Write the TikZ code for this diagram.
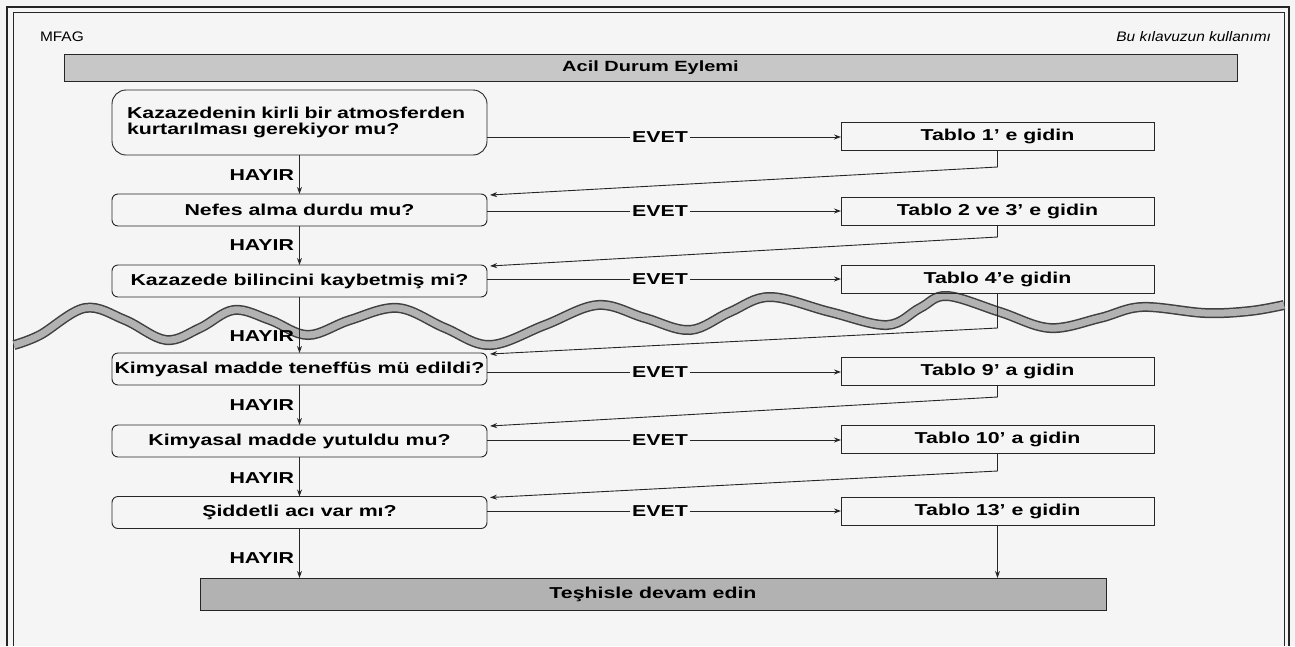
\documentclass[tikz,border=0pt]{standalone}
\usepackage{fontspec}
\setmainfont{Liberation Sans}[FakeStretch=1.35]
\newfontfamily\plainfont{Liberation Sans}[FakeStretch=1.12]
\usetikzlibrary{arrows.meta,calc}
\begin{document}
\begin{tikzpicture}[x=1pt,y=-1pt,
  every node/.style={inner sep=0pt, outer sep=0pt},
  lbl/.style={font=\fontsize{15.8}{16}\selectfont\bfseries},
  qbox/.style={draw=black!85, line width=0.9pt, rounded corners=6pt, minimum width=375pt, minimum height=32pt, lbl},
  tbox/.style={draw=black!85, line width=0.9pt, minimum width=313pt, minimum height=28pt, lbl},
  conn/.style={draw=black!85, line width=0.9pt},
  arr/.style={conn, -{Stealth[length=7pt,width=5pt]}},
  yes/.style={lbl, inner xsep=2pt},
  no/.style={lbl, anchor=east},
  band/.style={line width=10pt, black!75},
  bandfill/.style={line width=7pt, black!30},
]
\useasboundingbox (0,0) rectangle (1295,646);
\fill[black!4] (0,0) rectangle (1295,646);

% frame
\draw[line width=2pt, black!85] (7,646) -- (7,7) -- (1289,7) -- (1289,646);
\draw[line width=0.7pt, black!85] (13,646) -- (13,12) -- (1284,12) -- (1284,646);

% header texts
\node[anchor=west, font=\plainfont\fontsize{13.8}{15}\selectfont] (mfag) at (40,37) {MFAG};
\node[anchor=east, font=\plainfont\fontsize{13.8}{15}\selectfont\itshape] (guide) at (1271,37) {Bu kılavuzun kullanımı};
\node[draw=black!85, line width=0.9pt, fill=black!22, minimum width=1173pt, minimum height=27pt,
      font=\fontsize{14.8}{15}\selectfont\bfseries] (hdr) at (650.5,68) {Acil Durum Eylemi};

% wave band
\def\wavepts{(14,345) (40,335) (85,308) (125,320) (166,340) (200,328) (234,310) (270,320) (308,335) (350,320) (398,308) (445,328) (490,345) (545,325) (598,305) (645,318) (690,330) (730,312) (770,297) (830,312) (887,325) (920,308) (947,296) (1000,312) (1050,328) (1100,318) (1142,307) (1205,313) (1250,311) (1284,305)}
\draw[band] plot[smooth, tension=0.6] coordinates {\wavepts};
\draw[bandfill] plot[smooth, tension=0.6] coordinates {\wavepts};

% question boxes
\node[qbox, minimum height=65pt, rounded corners=14pt, text width=345pt, align=left] (q1) at (299.5,122.5)
  {Kazazedenin kirli bir atmosferden\\kurtarılması gerekiyor mu?};
\node[qbox] (q2) at (299.5,210) {Nefes alma durdu mu?};
\node[qbox] (q3) at (299.5,281) {Kazazede bilincini kaybetmiş mi?};
\node[qbox] (q4) at (299.5,369) {Kimyasal madde teneffüs mü edildi?};
\node[qbox] (q5) at (299.5,441) {Kimyasal madde yutuldu mu?};
\node[qbox] (q6) at (299.5,512.5) {Şiddetli acı var mı?};

% table boxes
\node[tbox] (t1) at (997.5,136) {Tablo 1' e gidin};
\node[tbox] (t2) at (997.5,211) {Tablo 2 ve 3' e gidin};
\node[tbox] (t4) at (997.5,279) {Tablo 4'e gidin};
\node[tbox] (t9) at (997.5,371) {Tablo 9' a gidin};
\node[tbox] (t10) at (997.5,439) {Tablo 10' a gidin};
\node[tbox] (t13) at (997.5,511) {Tablo 13' e gidin};

% final bar
\node[draw=black!85, line width=0.9pt, fill=black!30, minimum width=906pt, minimum height=32pt, lbl] (end) at (653,594) {Teşhisle devam edin};

% EVET labels
\node[yes] (e1) at (660,137) {EVET};
\node[yes] (e2) at (660,211) {EVET};
\node[yes] (e3) at (660,279) {EVET};
\node[yes] (e4) at (660,372) {EVET};
\node[yes] (e5) at (660,440) {EVET};
\node[yes] (e6) at (660,511) {EVET};

% HAYIR labels
\node[no] (h1) at (294,175) {HAYIR};
\node[no] (h2) at (294,245) {HAYIR};
\node[no] (h3) at (294,336) {HAYIR};
\node[no] (h4) at (294,405) {HAYIR};
\node[no] (h5) at (294,478) {HAYIR};
\node[no] (h6) at (294,558) {HAYIR};

% HAYIR arrows
\draw[arr] (q1) -- (q2);
\draw[arr] (q2) -- (q3);
\draw[arr] (q3) -- (q4);
\draw[arr] (q4) -- (q5);
\draw[arr] (q5) -- (q6);
\draw[arr] (q6.south) -- (q6.south |- end.north);

% EVET connectors
\foreach \q/\e/\t in {q1/e1/t1, q2/e2/t2, q3/e3/t4, q4/e4/t9, q5/e5/t10, q6/e6/t13}{
  \draw[conn] (\q.east |- \e) -- (\e.west);
  \draw[arr] (\e.east) -- (\t.west |- \e);
}

% return connectors
\draw[arr] (t1.south) -- ++(0,17) -- ($(q2.north east)+(3,1)$);
\draw[arr] (t2.south) -- ++(0,12) -- ($(q3.north east)+(3,1)$);
\draw[arr] (t4.south) -- ++(0,35) -- ($(q4.north east)+(3,1)$);
\draw[arr] (t9.south) -- ++(0,12) -- ($(q5.north east)+(3,1)$);
\draw[arr] (t10.south) -- ++(0,18) -- ($(q6.north east)+(3,1)$);
\draw[arr] (t13.south) -- (t13.south |- end.north);
\end{tikzpicture}
\end{document}
